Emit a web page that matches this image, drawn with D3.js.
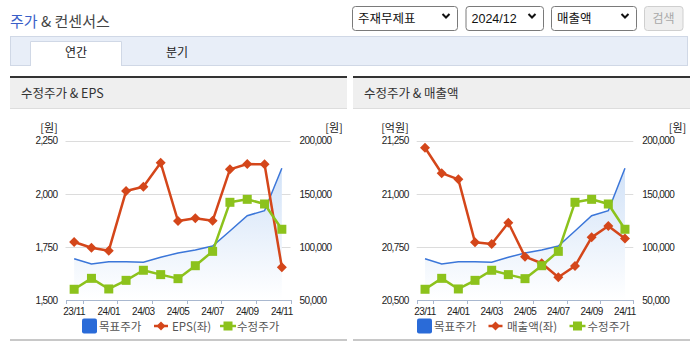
<!DOCTYPE html>
<html><head><meta charset="utf-8">
<script src="https://cdn.jsdelivr.net/npm/d3@7/dist/d3.min.js"></script>
<style>
body{margin:0;background:#fff;}
svg{display:block;font-family:"Noto Sans CJK KR","Noto Sans",sans-serif;}
</style>
</head><body>
<svg id="c" width="693" height="350"></svg>
<script>
// ---------- data ----------
const months = ["23/11","23/12","24/01","24/02","24/03","24/04","24/05","24/06","24/07","24/08","24/09","24/10","24/11"];
const xTickLabels = ["23/11","24/01","24/03","24/05","24/07","24/09","24/11"];
const targetPrice = [88900, 83900, 86100, 86100, 85500, 90200, 94300, 97100, 100800, 115000, 129400, 134100, 174000];
const adjPrice = [60100, 70400, 60400, 68500, 78000, 73900, 70100, 82300, 95800, 142000, 144800, 140400, 116600];
const eps = [1773, 1746, 1732, 2013, 2033, 2146, 1872, 1885, 1873, 2115, 2140, 2139, 1654];
const revenue = [21217, 21097, 21068, 20772, 20764, 20864, 20704, 20673, 20607, 20660, 20795, 20848, 20789];
const epsTicks = [1500, 1750, 2000, 2250];
const revenueTicks = [20500, 20750, 21000, 21250];
const priceTicks = [50000, 100000, 150000, 200000];
const selectLabels = ["주재무제표", "2024/12", "매출액"];
const tabLabels = ["연간", "분기"];

const C = {blue:"#3b76d9", legendBlue:"#2a6bd8", red:"#d4461a", green:"#8cc21c"};
const svg = d3.select("#c");
const fmt = d3.format(",");

// ---------- page header ----------
const t = svg.append("text").attr("x",10).attr("y",26.5).attr("font-size",15);
t.append("tspan").attr("fill","#3a5fc8").text("주가");
t.append("tspan").attr("fill","#444").text(" & 컨센서스");

const selBoxes = [[352,458],[465.5,544],[551,637]];
selectLabels.forEach((lab,i)=>{
  const [a,b] = selBoxes[i];
  svg.append("rect").attr("x",a+0.5).attr("y",6.5).attr("width",b-a-1).attr("height",24)
    .attr("rx",3).attr("fill","#fff").attr("stroke","#7a7a7a");
  svg.append("text").attr("x",a+6).attr("y",23).attr("font-size",12.5).attr("fill","#111")
    .attr("font-family", i===1 ? "Liberation Sans" : null).text(lab);
  const cx = b-12;
  svg.append("path").attr("d",`M${cx-3.5},${14}L${cx},${17.5}L${cx+3.5},${14}`)
    .attr("fill","none").attr("stroke","#111").attr("stroke-width",2);
});
svg.append("rect").attr("x",644.5).attr("y",6.5).attr("width",38.5).attr("height",24).attr("rx",3)
  .attr("fill","#efefef").attr("stroke","#cfcfcf");
svg.append("text").attr("x",663.5).attr("y",23).attr("text-anchor","middle").attr("font-size",12)
  .attr("fill","#a8a8a8").text("검색");

// ---------- tab bar ----------
svg.append("rect").attr("x",10.5).attr("y",36.5).attr("width",677).attr("height",29)
  .attr("fill","#e8eef8").attr("stroke","#d0d8e6");
svg.append("path").attr("d","M30.5,66V41.5H121.5V66").attr("fill","#fff").attr("stroke","#d0d8e6");
svg.append("rect").attr("x",31).attr("y",42).attr("width",90).attr("height",24).attr("fill","#fff");
svg.append("text").attr("x",76).attr("y",57).attr("text-anchor","middle").attr("font-size",12).attr("fill","#222").text(tabLabels[0]);
svg.append("text").attr("x",177).attr("y",57).attr("text-anchor","middle").attr("font-size",12).attr("fill","#222").text(tabLabels[1]);

// ---------- panels ----------
function panel(x0, x1, title){
  svg.append("rect").attr("x",x0).attr("y",76).attr("width",x1-x0).attr("height",2).attr("fill","#333");
  svg.append("rect").attr("x",x0).attr("y",78).attr("width",x1-x0).attr("height",30).attr("fill","#efefef");
  svg.append("rect").attr("x",x0).attr("y",108).attr("width",x1-x0).attr("height",1).attr("fill","#ddd");
  svg.append("text").attr("x",x0+11).attr("y",97.5).attr("font-size",12.5).attr("fill","#333").text(title);
  svg.append("rect").attr("x",x0).attr("y",339).attr("width",x1-x0).attr("height",2).attr("fill","#c8c8c8");
}
panel(10, 347, "수정주가 & EPS");
panel(353, 690, "수정주가 & 매출액");

// ---------- charts ----------
function diamond(g, x, y, r, color){
  g.append("path").attr("d",`M${x},${y-r}L${x+r},${y}L${x},${y+r}L${x-r},${y}Z`).attr("fill",color);
}
function chart(o){
  const g = svg.append("g");
  const top = 140.7, bottom = 300;
  const x = d3.scaleBand().domain(months).range([o.x0, o.x1]).padding(0);
  const cx = d => x(d) + x.bandwidth()/2;
  const yL = d3.scaleLinear().domain([o.leftTicks[0], o.leftTicks[o.leftTicks.length-1]]).range([bottom, top]);
  const yR = d3.scaleLinear().domain([priceTicks[0], priceTicks[priceTicks.length-1]]).range([bottom, top]);

  // gridlines
  g.append("g").selectAll("line").data(o.leftTicks.slice(1)).join("line")
    .attr("x1",o.x0).attr("x2",o.x1).attr("y1",d=>Math.round(yL(d))+0.5).attr("y2",d=>Math.round(yL(d))+0.5)
    .attr("stroke","#dcdcdc");

  // area gradient
  const gid = "grad"+o.id;
  const lg = svg.append("defs").append("linearGradient").attr("id",gid)
    .attr("gradientUnits","userSpaceOnUse").attr("x1",0).attr("x2",0).attr("y1",top).attr("y2",bottom);
  lg.append("stop").attr("offset",0).attr("stop-color","#c8dcf6");
  lg.append("stop").attr("offset",1).attr("stop-color","#ffffff");
  g.append("path").datum(targetPrice)
    .attr("d", d3.area().x((d,i)=>cx(months[i])).y0(bottom).y1(d=>yR(d)))
    .attr("fill",`url(#${gid})`);

  // x axis
  const ax = g.append("g").attr("transform",`translate(0,${bottom})`)
    .call(d3.axisBottom(x).tickValues(xTickLabels).tickSize(0).tickPadding(8));
  ax.select(".domain").attr("stroke","#a9b8cf");
  ax.selectAll("text").attr("font-family","Liberation Sans").attr("font-size",10)
    .attr("letter-spacing","-0.5px").attr("fill","#222");
  const bounds = [0,1,3,5,7,9,11,13].map(k => o.x0 + k*x.bandwidth());
  g.append("g").selectAll("line").data(bounds).join("line")
    .attr("x1",d=>Math.round(d)+0.5).attr("x2",d=>Math.round(d)+0.5).attr("y1",bottom).attr("y2",bottom+4)
    .attr("stroke","#a9b8cf");

  // y axes
  const al = g.append("g").attr("transform",`translate(${o.x0},0)`)
    .call(d3.axisLeft(yL).tickValues(o.leftTicks).tickFormat(fmt).tickSize(0).tickPadding(8));
  al.select(".domain").remove();
  const ar = g.append("g").attr("transform",`translate(${o.x1},0)`)
    .call(d3.axisRight(yR).tickValues(priceTicks).tickFormat(fmt).tickSize(0).tickPadding(9));
  ar.select(".domain").remove();
  [al,ar].forEach(a=>a.selectAll("text").attr("font-family","Liberation Sans").attr("font-size",10)
    .attr("letter-spacing","-0.6px").attr("fill","#222"));
  g.append("text").attr("x",o.lUnitX).attr("y",132).attr("text-anchor","middle").attr("font-size",11).attr("fill","#222").text(o.lUnit);
  g.append("text").attr("x",o.rUnitX).attr("y",132).attr("text-anchor","middle").attr("font-size",11).attr("fill","#222").text("[원]");

  // lines
  g.append("path").datum(targetPrice)
    .attr("d", d3.line().x((d,i)=>cx(months[i])).y(d=>yR(d)))
    .attr("fill","none").attr("stroke",C.blue).attr("stroke-width",1.5);
  g.append("path").datum(o.left)
    .attr("d", d3.line().x((d,i)=>cx(months[i])).y(d=>yL(d)))
    .attr("fill","none").attr("stroke",C.red).attr("stroke-width",2.5).attr("stroke-linejoin","round");
  o.left.forEach((d,i)=>diamond(g, cx(months[i]), yL(d), 5, C.red));
  g.append("path").datum(adjPrice)
    .attr("d", d3.line().x((d,i)=>cx(months[i])).y(d=>yR(d)))
    .attr("fill","none").attr("stroke",C.green).attr("stroke-width",2.5).attr("stroke-linejoin","round");
  g.append("g").selectAll("rect").data(adjPrice).join("rect")
    .attr("x",(d,i)=>cx(months[i])-4.5).attr("y",d=>yR(d)-4.5).attr("width",9).attr("height",9)
    .attr("fill",C.green);

  // legend
  const L = o.legend, ly = 326;
  g.append("rect").attr("x",L[0]).attr("y",ly-7.5).attr("width",15).attr("height",15).attr("rx",2).attr("fill",C.legendBlue);
  g.append("text").attr("x",L[1]).attr("y",ly+4.5).attr("font-size",11.5).attr("fill","#555").text("목표주가");
  g.append("line").attr("x1",L[2]-7).attr("x2",L[2]+7).attr("y1",ly).attr("y2",ly).attr("stroke",C.red).attr("stroke-width",2.5);
  diamond(g, L[2], ly, 4.5, C.red);
  g.append("text").attr("x",L[3]).attr("y",ly+4.5).attr("font-size",11.5).attr("fill","#555").text(o.leftName);
  g.append("line").attr("x1",L[4]-8).attr("x2",L[4]+8).attr("y1",ly).attr("y2",ly).attr("stroke",C.green).attr("stroke-width",2.5);
  g.append("rect").attr("x",L[4]-4.5).attr("y",ly-4.5).attr("width",9).attr("height",9).attr("fill",C.green);
  g.append("text").attr("x",L[5]).attr("y",ly+4.5).attr("font-size",11.5).attr("fill","#555").text("수정주가");
}

chart({id:1, x0:65.5, x1:290.5, left:eps, leftTicks:epsTicks, lUnit:"[원]", lUnitX:49, rUnitX:334,
  leftName:"EPS(좌)", legend:[82, 99, 161, 172, 228, 237]});
chart({id:2, x0:416.7, x1:633.3, left:revenue, leftTicks:revenueTicks, lUnit:"[억원]", lUnitX:395, rUnitX:677.5,
  leftName:"매출액(좌)", legend:[417, 434, 495.5, 507, 577.5, 587.5]});
</script>
</body></html>
